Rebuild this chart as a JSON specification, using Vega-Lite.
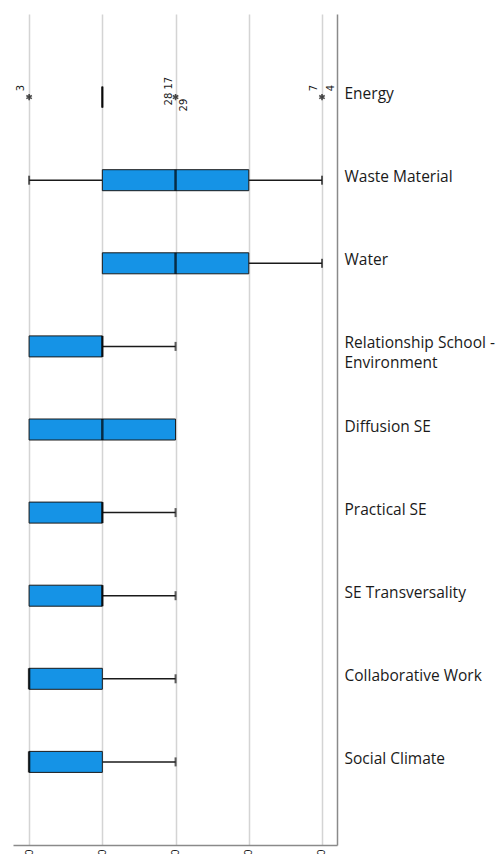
{
  "$schema": "https://vega.github.io/schema/vega-lite/v6.json",
  "width": 324,
  "height": 831,
  "autosize": {"type": "none"},
  "padding": {"left": 13, "top": 14, "right": 160, "bottom": 9},
  "config": {"view": {"stroke": null}, "font": "Open Sans"},
  "datasets": {
    "boxes": [
      {"variable": "Energy", "min": 4, "q1": 4, "median": 4, "q3": 4, "max": 4},
      {"variable": "Waste Material", "min": 1, "q1": 2, "median": 3, "q3": 4, "max": 5},
      {"variable": "Water", "min": 1, "q1": 2, "median": 3, "q3": 4, "max": 4},
      {"variable": "Relationship School - Environment", "min": 3, "q1": 4, "median": 4, "q3": 5, "max": 5},
      {"variable": "Diffusion SE", "min": 3, "q1": 3, "median": 4, "q3": 5, "max": 5},
      {"variable": "Practical SE", "min": 3, "q1": 4, "median": 4, "q3": 5, "max": 5},
      {"variable": "SE Transversality", "min": 3, "q1": 4, "median": 4, "q3": 5, "max": 5},
      {"variable": "Collaborative Work", "min": 3, "q1": 4, "median": 5, "q3": 5, "max": 5},
      {"variable": "Social Climate", "min": 3, "q1": 4, "median": 5, "q3": 5, "max": 5}
    ],
    "extremes": [
      {"variable": "Energy", "value": 5},
      {"variable": "Energy", "value": 3},
      {"variable": "Energy", "value": 1}
    ],
    "caselabels": [
      {"variable": "Energy", "value": 5, "label": "3"},
      {"variable": "Energy", "value": 3, "label": "28 17"},
      {"variable": "Energy", "value": 3, "label": "29"},
      {"variable": "Energy", "value": 1, "label": "7"},
      {"variable": "Energy", "value": 1, "label": "4"}
    ]
  },
  "encoding": {
    "y": {
      "field": "variable",
      "type": "nominal",
      "title": null,
      "sort": ["Energy", "Waste Material", "Water", "Relationship School - Environment", "Diffusion SE", "Practical SE", "SE Transversality", "Collaborative Work", "Social Climate"],
      "scale": {"paddingInner": 0, "paddingOuter": 0.5},
      "axis": {
        "orient": "right",
        "domainColor": "#8a8a8a",
        "domainWidth": 1.5,
        "ticks": false,
        "grid": false,
        "labelPadding": 7,
        "labelFontSize": 15.5,
        "labelColor": "#1a1a1a",
        "labelFont": "Open Sans",
        "labelBaseline": "top",
        "labelOffset": -10,
        "labelLineHeight": 20,
        "labelLimit": 200,
        "labelExpr": "datum.value == 'Relationship School - Environment' ? ['Relationship School -', 'Environment'] : datum.value"
      }
    }
  },
  "layer": [
    {
      "data": {"name": "boxes"},
      "mark": {"type": "rule", "color": "#1a1a1a", "strokeWidth": 1.5},
      "encoding": {
        "x": {
          "field": "min", "type": "quantitative", "title": null,
          "scale": {"domain": [0.795, 5.22], "reverse": true, "nice": false, "zero": false},
          "axis": {
            "values": [1, 2, 3, 4, 5],
            "grid": true,
            "gridColor": "#d4d4d4",
            "gridWidth": 1.5,
            "domainColor": "#8a8a8a",
            "domainWidth": 1.5,
            "ticks": false,
            "labelAngle": 270,
            "labelPadding": 4,
            "labelFontSize": 11,
            "labelColor": "#1a1a1a"
          }
        },
        "x2": {"field": "q1"}
      }
    },
    {
      "data": {"name": "boxes"},
      "mark": {"type": "rule", "color": "#1a1a1a", "strokeWidth": 1.5},
      "encoding": {
        "x": {"field": "q3", "type": "quantitative", "title": null, "scale": {"domain": [0.795, 5.22], "reverse": true, "nice": false, "zero": false}},
        "x2": {"field": "max"}
      }
    },
    {
      "data": {"name": "boxes"},
      "transform": [{"filter": "datum.min < datum.q1"}],
      "mark": {"type": "tick", "color": "#1a1a1a", "size": 9, "thickness": 2},
      "encoding": {
        "x": {"field": "min", "type": "quantitative", "title": null, "scale": {"domain": [0.795, 5.22], "reverse": true, "nice": false, "zero": false}}
      }
    },
    {
      "data": {"name": "boxes"},
      "transform": [{"filter": "datum.max > datum.q3"}],
      "mark": {"type": "tick", "color": "#1a1a1a", "size": 9, "thickness": 2},
      "encoding": {
        "x": {"field": "max", "type": "quantitative", "title": null, "scale": {"domain": [0.795, 5.22], "reverse": true, "nice": false, "zero": false}}
      }
    },
    {
      "data": {"name": "boxes"},
      "mark": {"type": "bar", "size": 21, "fill": "#1593e6", "stroke": "#1a1a1a", "strokeWidth": 1},
      "encoding": {
        "x": {"field": "q1", "type": "quantitative", "title": null, "scale": {"domain": [0.795, 5.22], "reverse": true, "nice": false, "zero": false}},
        "x2": {"field": "q3"}
      }
    },
    {
      "data": {"name": "boxes"},
      "mark": {"type": "tick", "color": "#000000", "size": 21, "thickness": 2.5},
      "encoding": {
        "x": {"field": "median", "type": "quantitative", "title": null, "scale": {"domain": [0.795, 5.22], "reverse": true, "nice": false, "zero": false}}
      }
    },
    {
      "data": {"name": "extremes"},
      "mark": {"type": "point", "shape": "M0,-1L0,1M-0.87,-0.5L0.87,0.5M-0.87,0.5L0.87,-0.5", "stroke": "#000000", "strokeWidth": 1.6, "size": 40, "filled": false},
      "encoding": {
        "x": {"field": "value", "type": "quantitative", "title": null, "scale": {"domain": [0.795, 5.22], "reverse": true, "nice": false, "zero": false}}
      }
    },
    {
      "data": {"name": "caselabels"},
      "transform": [{"filter": "datum.label == '3' || datum.label == '7'"}],
      "mark": {"type": "text", "angle": 270, "align": "center", "baseline": "bottom", "dx": 9, "dy": -3, "font": "DejaVu Sans", "fontSize": 10, "color": "#1a1a1a"},
      "encoding": {
        "x": {"field": "value", "type": "quantitative", "title": null, "scale": {"domain": [0.795, 5.22], "reverse": true, "nice": false, "zero": false}},
        "text": {"field": "label"}
      }
    },
    {
      "data": {"name": "caselabels"},
      "transform": [{"filter": "datum.label == '28 17'"}],
      "mark": {"type": "text", "angle": 270, "align": "center", "baseline": "bottom", "dx": 6, "dy": -2, "font": "DejaVu Sans", "fontSize": 10, "color": "#1a1a1a"},
      "encoding": {
        "x": {"field": "value", "type": "quantitative", "title": null, "scale": {"domain": [0.795, 5.22], "reverse": true, "nice": false, "zero": false}},
        "text": {"field": "label"}
      }
    },
    {
      "data": {"name": "caselabels"},
      "transform": [{"filter": "datum.label == '4'"}],
      "mark": {"type": "text", "angle": 270, "align": "center", "baseline": "top", "dx": 9, "dy": 4, "font": "DejaVu Sans", "fontSize": 10, "color": "#1a1a1a"},
      "encoding": {
        "x": {"field": "value", "type": "quantitative", "title": null, "scale": {"domain": [0.795, 5.22], "reverse": true, "nice": false, "zero": false}},
        "text": {"field": "label"}
      }
    },
    {
      "data": {"name": "caselabels"},
      "transform": [{"filter": "datum.label == '29'"}],
      "mark": {"type": "text", "angle": 270, "align": "center", "baseline": "top", "dx": -8, "dy": 3, "font": "DejaVu Sans", "fontSize": 10, "color": "#1a1a1a"},
      "encoding": {
        "x": {"field": "value", "type": "quantitative", "title": null, "scale": {"domain": [0.795, 5.22], "reverse": true, "nice": false, "zero": false}},
        "text": {"field": "label"}
      }
    }
  ]
}
